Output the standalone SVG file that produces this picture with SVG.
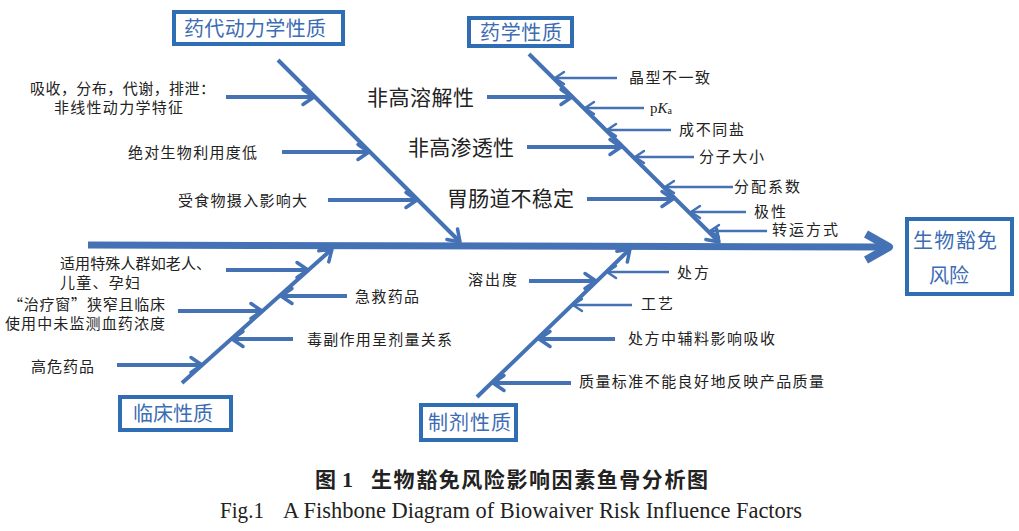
<svg xmlns="http://www.w3.org/2000/svg" width="1019" height="531" viewBox="0 0 1019 531">
<style>
.ln{stroke:#4472B4;fill:none;stroke-linecap:butt}
.w4{stroke-width:4;marker-end:url(#ah)}
.w2{stroke-width:2.4;marker-end:url(#as)}
.box{fill:#fff;stroke:#2F6DB5;stroke-width:4}
.bt{font-family:"Noto Sans CJK SC",sans-serif;font-size:20px;fill:#3C6CB3}
.lb{font-family:"Noto Sans CJK SC",sans-serif;font-size:15px;fill:#222}
.bg{font-family:"Noto Sans CJK SC",sans-serif;font-size:21px;fill:#222}
</style>
<defs>
<marker id="ah" markerUnits="userSpaceOnUse" viewBox="-14 -10 16 20" refX="0" refY="0" markerWidth="16" markerHeight="20" orient="auto" overflow="visible"><path d="M-11,-7.5 L0,0 L-11,7.5" fill="none" stroke="#4472B4" stroke-width="3.5" stroke-linecap="round" stroke-linejoin="round"/></marker>
<marker id="as" markerUnits="userSpaceOnUse" viewBox="-12 -8 14 16" refX="0" refY="0" markerWidth="14" markerHeight="16" orient="auto" overflow="visible"><path d="M-9,-6 L0,0 L-9,6" fill="none" stroke="#4472B4" stroke-width="2.4" stroke-linecap="round" stroke-linejoin="round"/></marker>
</defs>
<rect width="1019" height="531" fill="#fff"/>
<g id="connectors">
<line class="ln" x1="88" y1="245" x2="886" y2="247" stroke-width="7"/>
<path class="ln" d="M866,234 L889,247 L866,260" stroke-width="8" stroke-linecap="round" stroke-linejoin="round"/>
<line class="ln w4" x1="278" y1="60" x2="460" y2="242"/>
<line class="ln w4" x1="529" y1="54" x2="719" y2="242"/>
<line class="ln w4" x1="182" y1="383" x2="332" y2="249"/>
<line class="ln w4" x1="477" y1="397" x2="630" y2="249"/>
<line class="ln w4" x1="226" y1="97" x2="314" y2="97"/>
<line class="ln w4" x1="282" y1="152" x2="369" y2="152"/>
<line class="ln w4" x1="328" y1="200" x2="417" y2="200"/>
<line class="ln w4" x1="487" y1="97" x2="572" y2="97"/>
<line class="ln w4" x1="527" y1="147" x2="621" y2="147"/>
<line class="ln w4" x1="587" y1="199" x2="673" y2="199"/>
<line class="ln w2" x1="617" y1="78" x2="555" y2="78"/>
<line class="ln w2" x1="644" y1="108" x2="585" y2="108"/>
<line class="ln w2" x1="671" y1="130" x2="607" y2="130"/>
<line class="ln w2" x1="694" y1="157" x2="635" y2="157"/>
<line class="ln w2" x1="733" y1="187" x2="665" y2="187"/>
<line class="ln w2" x1="746" y1="212" x2="691" y2="212"/>
<line class="ln w2" x1="767" y1="231" x2="710" y2="231"/>
<line class="ln w4" x1="226" y1="270" x2="308" y2="270"/>
<line class="ln w4" x1="347" y1="296" x2="281" y2="296"/>
<line class="ln w4" x1="178" y1="311" x2="262" y2="311"/>
<line class="ln w4" x1="293" y1="339" x2="232" y2="339"/>
<line class="ln w4" x1="117" y1="365" x2="202" y2="365"/>
<line class="ln w4" x1="529" y1="281" x2="596" y2="281"/>
<line class="ln w2" x1="669" y1="272" x2="607" y2="272"/>
<line class="ln w2" x1="632" y1="305" x2="573" y2="305"/>
<line class="ln w4" x1="615" y1="339" x2="539" y2="339"/>
<line class="ln w4" x1="571" y1="383" x2="493" y2="383"/>
</g>
<g id="node-pk"><rect class="box" x="174" y="12" width="169" height="32"/><text class="bt" x="184" y="35.5" textLength="142">药代动力学性质</text></g>
<g id="node-pharm"><rect class="box" x="469" y="18" width="103" height="28"/><text class="bt" x="480" y="39.5" textLength="82">药学性质</text></g>
<g id="node-clin"><rect class="box" x="120" y="397" width="111" height="33"/><text class="bt" x="133" y="420.5" textLength="80">临床性质</text></g>
<g id="node-form"><rect class="box" x="421" y="405" width="95" height="35"/><text class="bt" x="428" y="429.5" textLength="83">制剂性质</text></g>
<g id="node-risk"><rect class="box" x="907" y="219" width="105" height="75"/><text class="bt" x="913" y="248" font-size="21" textLength="84">生物豁免</text><text class="bt" x="929" y="283" font-size="21">风险</text></g>
<g id="pk-causes">
<text class="lb" x="30" y="93.7" textLength="185">吸收，分布，代谢，排泄：</text>
<text class="lb" x="54" y="112.7" textLength="129">非线性动力学特征</text>
<text class="lb" x="128" y="157.7" textLength="129">绝对生物利用度低</text>
<text class="lb" x="178" y="205.7" textLength="129">受食物摄入影响大</text>
</g>
<g id="pharm-causes">
<text class="bg" x="367" y="105" textLength="107">非高溶解性</text>
<text class="bg" x="408" y="155" textLength="106">非高渗透性</text>
<text class="bg" x="447" y="206" textLength="127">胃肠道不稳定</text>
<text class="lb" x="629" y="82.7" textLength="81">晶型不一致</text>
<text x="650" y="112.5" font-family="Liberation Serif, serif" font-size="15" fill="#222">p<tspan font-style="italic">K</tspan><tspan font-size="10" dy="1">a</tspan></text>
<text class="lb" x="679" y="134.7" textLength="65">成不同盐</text>
<text class="lb" x="699" y="161.7" textLength="65">分子大小</text>
<text class="lb" x="734" y="191.7" textLength="66">分配系数</text>
<text class="lb" x="754" y="216.7" textLength="32">极性</text>
<text class="lb" x="772" y="234.7" textLength="66">转运方式</text>
</g>
<g id="clin-causes">
<text class="lb" x="60" y="268.7" textLength="151">适用特殊人群如老人、</text>
<text class="lb" x="60" y="287.7" textLength="80">儿童、孕妇</text>
<text class="lb" x="8" y="310" textLength="157">“治疗窗”狭窄且临床</text>
<text class="lb" x="5" y="329.3" textLength="160">使用中未监测血药浓度</text>
<text class="lb" x="355" y="301.7" textLength="64">急救药品</text>
<text class="lb" x="307" y="344.7" textLength="145">毒副作用呈剂量关系</text>
<text class="lb" x="31" y="371.7" textLength="63">高危药品</text>
</g>
<g id="form-causes">
<text class="lb" x="468" y="284.7" textLength="49">溶出度</text>
<text class="lb" x="677" y="277.7" textLength="32">处方</text>
<text class="lb" x="641" y="308.7" textLength="32">工艺</text>
<text class="lb" x="628" y="343.7" textLength="147">处方中辅料影响吸收</text>
<text class="lb" x="579" y="386.7" textLength="245">质量标准不能良好地反映产品质量</text>
</g>
<g id="caption">
<text y="487" font-weight="bold" font-size="21" fill="#222"><tspan x="315" font-family="Noto Sans CJK SC, sans-serif">图</tspan><tspan x="342" font-family="Liberation Serif, serif" font-size="22">1</tspan><tspan x="371" font-family="Noto Sans CJK SC, sans-serif" textLength="337">生物豁免风险影响因素鱼骨分析图</tspan></text>
<text y="518" font-family="Liberation Serif, serif" font-size="23" fill="#222"><tspan x="220" textLength="44" lengthAdjust="spacingAndGlyphs">Fig.1</tspan><tspan x="283" textLength="519" lengthAdjust="spacingAndGlyphs">A Fishbone Diagram of Biowaiver Risk Influence Factors</tspan></text>
</g>
</svg>
